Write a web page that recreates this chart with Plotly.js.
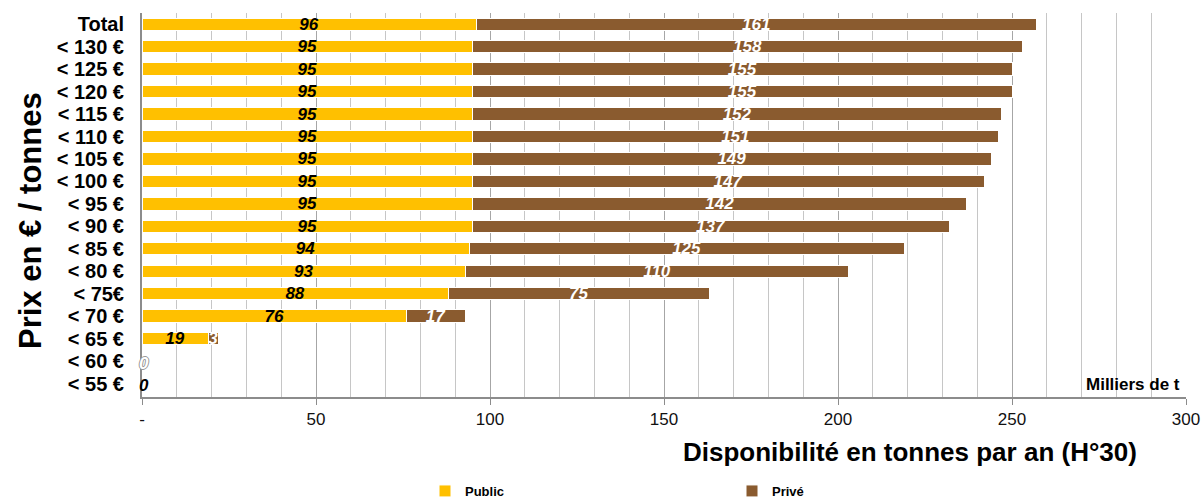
<!DOCTYPE html>
<html><head><meta charset="utf-8">
<script src="https://cdn.plot.ly/plotly-3.0.1.min.js"></script>
<style>html,body{margin:0;padding:0;background:#fff}#chart{width:1203px;height:498px}</style>
</head><body><div id="chart"></div>
<script>
const categories = ["Total","< 130 €","< 125 €","< 120 €","< 115 €","< 110 €","< 105 €","< 100 €","< 95 €","< 90 €","< 85 €","< 80 €","< 75€","< 70 €","< 65 €","< 60 €","< 55 €"];
const publicValues = [96,95,95,95,95,95,95,95,95,95,94,93,88,76,19,0,0];
const priveValues  = [161,158,155,155,152,151,149,147,142,137,125,110,75,17,3,0,0];
const xTickVals = [0,50,100,150,200,250,300];
const xTickText = ["-","50","100","150","200","250","300"];

const FONT = "Liberation Sans, Arial, sans-serif";
const traces = [
  {type:"bar", orientation:"h", name:"Public", y:categories, x:publicValues,
   marker:{color:"#FFC000", line:{color:"#ffffff", width:1}},
   text:publicValues.map(v=> v>0 ? String(v) : ""), textposition:"inside", insidetextanchor:"middle",
   constraintext:"none", textangle:0,
   textfont:{family:FONT, size:17, color:"#000", weight:"bold", style:"italic"}},
  {type:"bar", orientation:"h", name:"Privé", y:categories, x:priveValues,
   marker:{color:"#8A5B2F", line:{color:"#ffffff", width:1}},
   text:priveValues.map(v=> v>0 ? String(v) : ""), textposition:"inside", insidetextanchor:"middle",
   constraintext:"none", textangle:0,
   textfont:{family:FONT, size:17, color:"#fff", weight:"bold", style:"italic"}}
];

const annotations = [];
categories.forEach((c,i)=>{
  if (publicValues[i]===0 && priveValues[i]===0) {
    const white = (i === categories.length-2);
    annotations.push({x:0, y:c, xref:"x", yref:"y", text:"<b><i>0</i></b>", showarrow:false,
      xanchor:"left", xshift:-5, yshift:-2,
      font:{family:FONT, size:17, color: white ? "#ffffff" : "#000000",
            shadow: white ? "1px 0 0 #999, -1px 0 0 #999, 0 1px 0 #999, 0 -1px 0 #999" : "none"}});
  }
});
annotations.push({xref:"paper", yref:"paper", x:0.9965, y:0.0, xanchor:"right", yanchor:"bottom", yshift:1,
  text:"<b>Milliers de t</b>", showarrow:false, font:{family:FONT, size:17, color:"#000"}});
annotations.push({xref:"paper", yref:"paper", x:(910-142)/1044, y:-0.10, xanchor:"center", yanchor:"top",
  text:"<b>Disponibilité en tonnes par an (H°30)</b>", showarrow:false, font:{family:FONT, size:26, color:"#000"}});
annotations.push({xref:"paper", yref:"paper", x:(30-142)/1044, y:(397-221)/384, xanchor:"center", yanchor:"middle",
  textangle:-90, text:"<b>Prix en € / tonnes</b>", showarrow:false, font:{family:FONT, size:31, color:"#000"}});

const layout = {
  width:1203, height:498,
  margin:{l:142, r:17, t:13, b:101},
  paper_bgcolor:"#fff", plot_bgcolor:"#fff",
  barmode:"stack", bargap:0.45,
  font:{family:FONT, color:"#000"},
  xaxis:{range:[0,300], tickvals:xTickVals, ticktext:xTickText,
    showgrid:true, gridcolor:"#a6a6a6", gridwidth:1,
    minor:{dtick:10, tick0:0, showgrid:true, gridcolor:"#c6c6c6", gridwidth:1},
    showline:true, linecolor:"#8c8c8c", linewidth:2,
    ticks:"outside", ticklen:6, tickcolor:"#8c8c8c",
    tickfont:{family:FONT, size:17, color:"#111"}, zeroline:false, fixedrange:true, automargin:false},
  yaxis:{categoryorder:"array", categoryarray:categories.slice().reverse(),
    tickmode:"linear", tick0:0, dtick:1, automargin:false,
    showline:true, linecolor:"#8c8c8c", linewidth:2, showgrid:false, zeroline:false,
    ticks:"", tickfont:{family:FONT, size:20, color:"#000", weight:"bold"}, ticklabelstandoff:12},
  showlegend:true,
  legend:{orientation:"h", xref:"container", yref:"container", x:425/1203, y:7/498, xanchor:"left", yanchor:"middle",
    entrywidth:262, entrywidthmode:"pixels", traceorder:"normal",
    font:{family:FONT, size:13, color:"#000", weight:"bold"}},
  annotations:annotations
};
Plotly.newPlot("chart", traces, layout, {displayModeBar:false, staticPlot:true});
</script></body></html>
